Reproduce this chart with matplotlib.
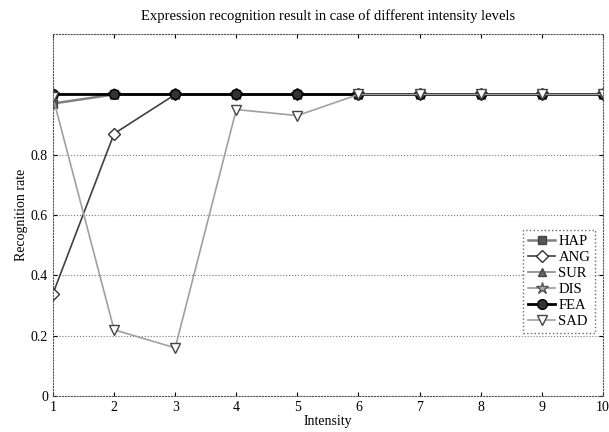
import matplotlib
matplotlib.use("Agg")
import matplotlib.pyplot as plt

plt.rcParams["font.family"] = ["Liberation Serif", "DejaVu Serif"]

intensity = [1, 2, 3, 4, 5, 6, 7, 8, 9, 10]
hap = [0.97, 1, 1, 1, 1, 1, 1, 1, 1, 1]
ang = [0.34, 0.87, 1, 1, 1, 1, 1, 1, 1, 1]
sur = [1, 1, 1, 1, 1, 1, 1, 1, 1, 1]
dis = [1, 1, 1, 1, 1, 1, 1, 1, 1, 1]
fea = [1, 1, 1, 1, 1, 1, 1, 1, 1, 1]
sad = [0.99, 0.22, 0.16, 0.95, 0.93, 1, 1, 1, 1, 1]

fig = plt.figure(figsize=(6.09, 4.32), dpi=100)
ax = fig.add_axes([0.087, 0.083, 0.903, 0.838])

ax.plot(intensity, hap, "-s", color="#808080", mfc="#555555", mec="#444444",
        lw=1.8, ms=6, label="HAP")
ax.plot(intensity, ang, "-D", color="#404040", mfc="white", mec="#333333",
        lw=1.2, ms=6, label="ANG")
ax.plot(intensity, sur, "-^", color="#888888", mfc="#666666", mec="#444444",
        lw=1.2, ms=6, label="SUR")
ax.plot(intensity, dis, "-*", color="#999999", mfc="#aaaaaa", mec="#555555",
        lw=1.2, ms=9, label="DIS")
ax.plot(intensity, fea, "-o", color="black", mfc="#333333", mec="black",
        lw=2.0, ms=7, label="FEA")
ax.plot(intensity, sad, "-v", color="#a0a0a0", mfc="white", mec="#444444",
        lw=1.2, ms=7, label="SAD")

ax.set_xlim(1, 10)
ax.set_ylim(0, 1.2)
ax.set_xticks(intensity)
ax.set_yticks([0, 0.2, 0.4, 0.6, 0.8])
ax.set_yticklabels(["0", "0.2", "0.4", "0.6", "0.8"])
ax.grid(True, axis="y", linestyle=":", color="#777777", lw=0.8)
ax.tick_params(direction="in", labelsize=10, top=True, right=True, length=3)
for s in ax.spines.values():
    s.set_linestyle(":")
    s.set_color("#555555")

ax.set_xlabel("Intensity", fontsize=10, labelpad=1)
ax.set_ylabel("Recognition rate", fontsize=10, labelpad=2)
ax.set_title("Expression recognition result in case of different intensity levels",
             fontsize=10.5, pad=10)

leg = ax.legend(loc="lower right", bbox_to_anchor=(0.985, 0.175), fontsize=10.5,
                frameon=True, fancybox=False, handlelength=1.9,
                handletextpad=0.2, borderpad=0.3, labelspacing=0.2,
                borderaxespad=0)
leg.get_frame().set_edgecolor("#444444")
leg.get_frame().set_linestyle(":")

fig.savefig("out.png", dpi=100)
